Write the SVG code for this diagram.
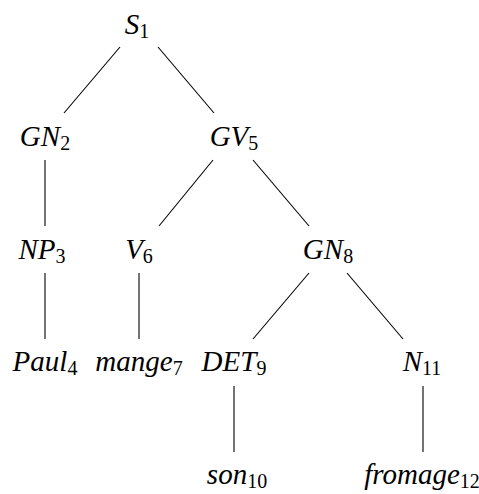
<svg xmlns="http://www.w3.org/2000/svg" width="479" height="494" viewBox="0 0 479 494">
<style>
.lbl{font-family:"Liberation Serif","Times New Roman",serif;font-style:italic;font-size:29px;fill:#000;text-anchor:middle}
.sub{font-style:normal;font-size:20px}
.edge{stroke:#000;stroke-width:1.1;fill:none}
</style>
<rect width="479" height="494" fill="#fff"/>
<g id="connectors">
<line class="edge" x1="120" y1="47" x2="64" y2="113"/>
<line class="edge" x1="158" y1="47" x2="214" y2="113"/>
<line class="edge" x1="45" y1="160" x2="45" y2="226"/>
<line class="edge" x1="213" y1="160" x2="159" y2="226"/>
<line class="edge" x1="253" y1="160" x2="309" y2="226"/>
<line class="edge" x1="45" y1="273" x2="45" y2="339"/>
<line class="edge" x1="139" y1="273" x2="139" y2="339"/>
<line class="edge" x1="309" y1="273" x2="253" y2="339"/>
<line class="edge" x1="347" y1="273" x2="403" y2="339"/>
<line class="edge" x1="234" y1="386" x2="234" y2="452"/>
<line class="edge" x1="423" y1="386" x2="423" y2="452"/>
</g>
<g id="S1"><text class="lbl" x="137" y="34">S<tspan class="sub" dy="4">1</tspan></text></g>
<g id="GN2"><text class="lbl" x="45" y="146">GN<tspan class="sub" dy="4">2</tspan></text></g>
<g id="GV5"><text class="lbl" x="234" y="146">GV<tspan class="sub" dy="4">5</tspan></text></g>
<g id="NP3"><text class="lbl" x="42" y="259">NP<tspan class="sub" dy="4">3</tspan></text></g>
<g id="V6"><text class="lbl" x="139" y="259">V<tspan class="sub" dy="4">6</tspan></text></g>
<g id="GN8"><text class="lbl" x="328" y="259">GN<tspan class="sub" dy="4">8</tspan></text></g>
<g id="Paul4"><text class="lbl" x="45" y="371">Paul<tspan class="sub" dy="4">4</tspan></text></g>
<g id="mange7"><text class="lbl" x="139" y="371">mange<tspan class="sub" dy="4">7</tspan></text></g>
<g id="DET9"><text class="lbl" x="234" y="371">DET<tspan class="sub" dy="4">9</tspan></text></g>
<g id="N11"><text class="lbl" x="422" y="371">N<tspan class="sub" dy="4">11</tspan></text></g>
<g id="son10"><text class="lbl" x="237" y="484">son<tspan class="sub" dy="4">10</tspan></text></g>
<g id="fromage12"><text class="lbl" x="422" y="484">fromage<tspan class="sub" dy="4">12</tspan></text></g>
</svg>
